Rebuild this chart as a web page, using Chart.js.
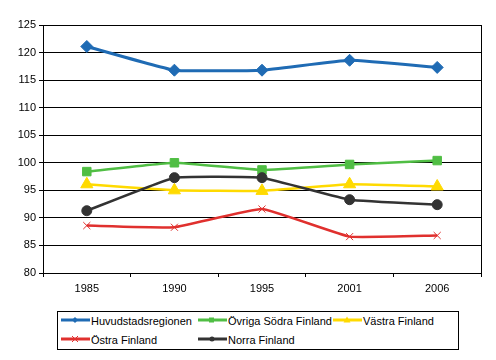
<!DOCTYPE html>
<html><head><meta charset="utf-8">
<script src="https://cdn.jsdelivr.net/npm/chart.js@4.4.0/dist/chart.umd.min.js"></script>
<style>
html,body{margin:0;padding:0;background:#fff;}
#wrap{position:relative;width:496px;height:360px;font-family:"Liberation Sans",Arial,sans-serif;}
#c{position:absolute;left:0;top:0;}
#legend{position:absolute;left:57px;top:311px;width:402px;height:39px;border:1px solid #000;box-sizing:border-box;font-size:11px;color:#000;}
.item{position:absolute;height:14px;line-height:14px;white-space:nowrap;}
.item svg{position:absolute;left:0;top:0;}
.item span{position:absolute;left:30px;top:0;}
</style></head>
<body><div id="wrap"><canvas id="c" width="496" height="300"></canvas><div id="legend"></div></div>
<script>
const years = ["1985","1990","1995","2001","2006"];
const huvudstadsregionen = [121.1, 116.8, 116.8, 118.6, 117.3];
const ovrigaSodraFinland = [98.4, 100.0, 98.7, 99.7, 100.4];
const vastraFinland = [96.1, 95.0, 94.9, 96.1, 95.7];
const ostraFinland = [88.6, 88.3, 91.6, 86.6, 86.8];
const norraFinland = [91.3, 97.3, 97.3, 93.3, 92.4];
const seriesNames = ["Huvudstadsregionen","Övriga Södra Finland","Västra Finland","Östra Finland","Norra Finland"];
const yTicks = {min: 80, max: 125, step: 5};

const styles = [
  {c:"#1F6BB4", pt:"rectRot", r:6, w:3},
  {c:"#50BE44", pt:"rect", r:6, w:2.5},
  {c:"#FFDA00", pt:"triangle", r:7, w:2.5},
  {c:"#E0302E", pt:"crossRot", r:5, w:2.5},
  {c:"#333333", pt:"circle", r:5, w:2.5}
];
const dataArr = [huvudstadsregionen, ovrigaSodraFinland, vastraFinland, ostraFinland, norraFinland];
const datasets = dataArr.map((d,i)=>({
  label: seriesNames[i], data: d,
  borderColor: styles[i].c, backgroundColor: styles[i].c,
  borderWidth: styles[i].w, pointStyle: styles[i].pt, pointRadius: styles[i].r,
  pointBorderWidth: 1, pointBorderColor: styles[i].c,
  tension: 0.1, order: i===4?0:i+1
}));
const borderPlugin = {id:'border', afterDraw(chart){
  const a = chart.chartArea, ctx = chart.ctx;
  ctx.save(); ctx.strokeStyle='#000'; ctx.lineWidth=1;
  ctx.beginPath(); ctx.moveTo(Math.round(a.right)+0.5, a.top); ctx.lineTo(Math.round(a.right)+0.5, a.bottom); ctx.stroke();
  ctx.restore();
}};
new Chart(document.getElementById('c'), {
  type:'line',
  data:{labels: years, datasets},
  plugins:[borderPlugin],
  options:{
    responsive:false, animation:false,
    layout:{padding:{top:25,right:15,left:0,bottom:0}},
    plugins:{legend:{display:false}, tooltip:{enabled:false}},
    scales:{
      x:{offset:true,
        grid:{offset:true, drawOnChartArea:false, color:'#000', tickLength:4, tickColor:'#000'},
        border:{display:true,color:'#000',width:1},
        ticks:{color:'#000', font:{family:"Liberation Sans", size:11}, padding:5, maxRotation:0},
        afterFit(s){s.height=27;}
      },
      y:{min:yTicks.min, max:yTicks.max,
        grid:{color:'#000', tickLength:4, tickColor:'#000'},
        border:{display:true,color:'#000',width:1},
        ticks:{stepSize:yTicks.step, color:'#000', font:{family:"Liberation Sans", size:11}, padding:3},
        afterFit(s){s.width=43;}
      }
    }
  }
});
const pos = [[3,2],[140,2],[275,2],[3,21],[140,21]];
const leg = document.getElementById('legend');
function markerSvg(st){
  const c=st.c; let m='';
  if(st.pt==='rectRot') m=`<polygon points="14,3 17,6 14,9 11,6" fill="${c}"/>`;
  else if(st.pt==='rect') m=`<rect x="11" y="3.5" width="5" height="5" fill="${c}"/>`;
  else if(st.pt==='triangle') m=`<polygon points="14,2.5 17.5,8.5 10.5,8.5" fill="${c}"/>`;
  else if(st.pt==='crossRot') m=`<path d="M11,3 L17,9 M17,3 L11,9" stroke="${c}" stroke-width="1"/>`;
  else m=`<circle cx="14" cy="6" r="2.5" fill="${c}"/>`;
  return `<svg width="30" height="14"><line x1="0" y1="6" x2="29" y2="6" stroke="${c}" stroke-width="3"/>${m}</svg>`;
}
seriesNames.forEach((n,i)=>{
  const d=document.createElement('div'); d.className='item';
  d.style.left=pos[i][0]+'px'; d.style.top=pos[i][1]+'px';
  d.innerHTML=markerSvg(styles[i])+'<span>'+n+'</span>';
  leg.appendChild(d);
});
</script></body></html>
